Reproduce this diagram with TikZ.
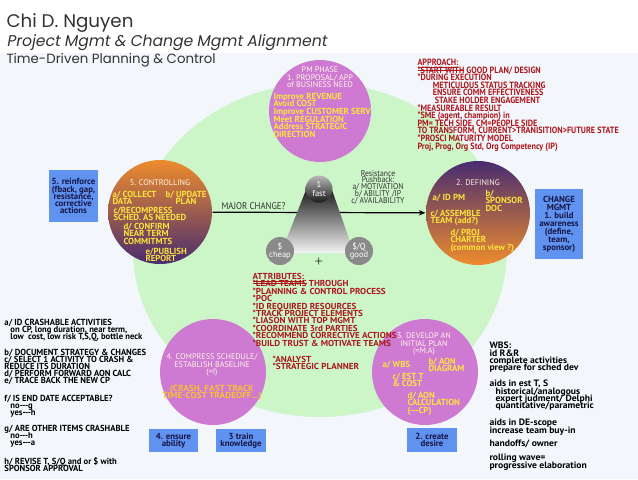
\documentclass[tikz,border=0pt]{standalone}
\usepackage{fontspec}
\usetikzlibrary{positioning,arrows.meta}

\newfontfamily\cndfont[FakeStretch=0.9]{PT Sans}
\newfontfamily\discfont[FakeStretch=1.0]{PT Sans}
\newfontfamily\cirfont[FakeStretch=1.05]{PT Sans}
\newfontfamily\boxfont[FakeStretch=1.0]{PT Sans}
\newfontfamily\notefont[FakeStretch=0.98]{PT Sans}
\newfontfamily\widefont[FakeStretch=1.05]{PT Sans}
\newfontfamily\headfont{Poppins}
\newfontfamily\headslant[FakeSlant=0.18]{Poppins}
\lineskiplimit=-20pt

\newcommand{\strk}[1]{\setbox0\hbox{#1}\rlap{\rule[0.3em]{\wd0}{0.45pt}}\box0\relax}

\definecolor{panelbg}{RGB}{243,246,250}
\definecolor{ringgreen}{RGB}{204,245,200}
\definecolor{orchid}{RGB}{206,122,210}
\definecolor{phorange}{RGB}{238,140,45}
\definecolor{phpurple}{RGB}{72,44,112}
\definecolor{txyellow}{RGB}{250,228,60}
\definecolor{txgold}{RGB}{250,190,50}
\definecolor{txlight}{RGB}{255,246,228}
\definecolor{txred}{RGB}{172,22,28}
\definecolor{boxblue}{RGB}{96,146,240}
\definecolor{boxnavy}{RGB}{22,22,70}
\definecolor{hdgray}{RGB}{51,51,51}
\definecolor{ballgray}{RGB}{138,138,138}

\tikzset{every picture/.style={line width=0.75pt}}
\tikzset{
  disc/.style={circle,draw=none,inner sep=0pt},
  intext/.style={inner sep=0pt,anchor=north west,align=left,text=txyellow,
    font=\discfont\bfseries\fontsize{6.6}{5.7}\selectfont},
  intitle/.style={inner sep=0pt,anchor=north,align=center,text=txlight,
    font=\discfont\fontsize{6.1}{5.6}\selectfont},
  redlist/.style={intext,text=txred,font=\cirfont\bfseries\fontsize{6.5}{5.6}\selectfont},
  notelist/.style={intext,text=black,font=\notefont\bfseries\fontsize{6.6}{5.3}\selectfont},
  widenote/.style={intext,text=black,font=\widefont\bfseries\fontsize{6.9}{5.6}\selectfont},
  cmbox/.style={draw=none,fill=boxblue,inner sep=0pt,align=center,text=boxnavy,
    font=\boxfont\bfseries\fontsize{6.6}{5.3}\selectfont},
  balltext/.style={align=center,text=white,font=\discfont\fontsize{6.4}{6.4}\selectfont}
}

\begin{document}
\begin{tikzpicture}[x=0.75pt,y=0.75pt,yscale=-1,xscale=1]
\useasboundingbox (0,0) rectangle (638,479);

%Shape: Rectangle [id:panel]
\fill[panelbg] (0,53) rectangle (638,479);
%Shape: Ellipse [id:ring]
\fill[ringgreen] (320,250) ellipse [x radius=187, y radius=167];

% Text Node
\draw (6,27) node (author) [anchor=base west,inner sep=0pt,text=hdgray,font=\headfont\fontsize{13.7}{16}\selectfont] {Chi D. Nguyen};
% Text Node
\draw (6,46) node (topic) [anchor=base west,inner sep=0pt,text=hdgray,font=\headslant\fontsize{11.7}{14}\selectfont] {Project Mgmt \& Change Mgmt Alignment};
% Text Node
\draw (6,63) node (subtopic) [anchor=base west,inner sep=0pt,text=hdgray,font=\headfont\fontsize{10}{12}\selectfont] {Time-Driven Planning \& Control};

%Shape: Circle [id:phases]
\draw (320,111) node (pm) [disc,minimum size=76.5pt,fill=orchid] {};
\draw (160,212) node (ctrl) [disc,minimum size=78pt,top color=phorange,bottom color=phpurple] {};
\draw (478,213) node (def) [disc,minimum size=78pt,top color=phpurple,bottom color=phorange] {};
\draw (213,372) node (cmp) [disc,minimum size=79.5pt,fill=orchid] {};
\draw (425,372) node (dev) [disc,minimum size=79.5pt,fill=orchid] {};

%Straight Lines [id:majorchange]
\draw [-{Stealth[length=5pt,width=4pt]},line width=0.9] (ctrl) -- (def);

%Shape: Trapezoid [id:tcq]
\shade[top color=black!88,bottom color=white!96!black] (306,190) -- (332,190) -- (354,253) -- (281,253) -- cycle;
\draw (319,189) node (fast) [disc,minimum size=20.25pt,top color=gray!55,bottom color=black!90,balltext] {1\\fast};
\draw (280,251) node (cheap) [disc,minimum size=21pt,fill=ballgray,balltext] {\$\\cheap};
\draw (359,251) node (good) [disc,minimum size=21pt,fill=ballgray,balltext] {\$/Q\\good};
\draw (319,261) node (plus) [inner sep=0pt,font=\bfseries\fontsize{6}{6}\selectfont] {+};

% Text Node
\draw (221,206) node (major) [anchor=west,inner sep=0pt,text=hdgray,font=\cndfont\fontsize{7.3}{6}\selectfont] {MAJOR CHANGE?};
% Text Node
\draw (378,169.5) node (resist) [anchor=north,inner sep=0pt,align=center,text=hdgray,font=\cndfont\fontsize{6.4}{5.1}\selectfont] {Resistance\\Pushback:\\a/ MOTIVATION\\b/ ABILITY /IP\\c/ AVAILABILITY};

% PM phase
\draw (320,66.5) node (pmT) [intitle] {PM PHASE\\1. PROPOSAL/ APP\\of BUSINESS NEED};
\draw (273,92.5) node (pmL) [intext] {Improve REVENUE\\Avoid COST\\Improve CUSTOMER SERV\\Meet REGULATION\\Address STRATEGIC\\DIRECTION};

% Controlling
\draw (160,179.5) node (ctrlT) [intitle] {5. CONTROLLING};
\draw (112,190.5) node (ctrlA) [intext] {a/ COLLECT\\DATA};
\draw (186,190.5) node (ctrlB) [intext,anchor=north,align=center] {b/ UPDATE\\PLAN};
\draw (113,206.5) node (ctrlC) [intext] {c/RECOMPRESS\\SCHED. AS NEEDED};
\draw (123,222.5) node (ctrlD) [intext] {d/ CONFIRM\\NEAR TERM\\COMMITMTS};
\draw (145,247.5) node (ctrlE) [intext] {e/PUBLISH\\REPORT};

% Defining
\draw (478,179.5) node (defT) [intitle] {2. DEFINING};
\draw (432,193.5) node (defA) [intext] {a/ ID PM};
\draw (485,189.5) node (defB) [intext] {b/\\SPONSOR\\DOC};
\draw (430,209.5) node (defC) [intext] {c/ ASSEMBLE\\TEAM (add?)};
\draw (450,228.5) node (defD) [intext] {d/ PROJ\\CHARTER\\(common view ?)};

% Compress
\draw (212,353.5) node (cmpT) [intitle] {4. COMPRESS SCHEDULE/\\ESTABLISH BASELINE\\(=I)};
\draw (212,384.5) node (cmpN) [intext,anchor=north,align=center,text=txgold,font=\cirfont\bfseries\fontsize{6.6}{5.7}\selectfont] {(CRASH, FAST TRACK\\TIME-COST TRADEOFF...)};

% Develop
\draw (424,332.5) node (devT) [intitle] {3. DEVELOP AN\\INITIAL PLAN\\(=M.A)};
\draw (382,360.5) node (devA) [intext] {a/ WBS};
\draw (428,357.5) node (devB) [intext] {b/ AON\\DIAGRAM};
\draw (392,372.5) node (devC) [intext] {c/ EST T\\\& COST};
\draw (407,391.5) node (devD) [intext] {d/ AON\\CALCULATION\\(-{}-{}-CP)};

% Red lists
\draw (417,58.5) node (approach) [redlist,font=\cndfont\bfseries\fontsize{6.8}{5.7}\selectfont] {\underline{APPROACH:}\\
\strk{*START WITH} GOOD PLAN/ DESIGN\\
*DURING EXECUTION\\
\hspace*{11.5pt}METICULOUS STATUS TRACKING\\
\hspace*{11.5pt}ENSURE COMM EFFECTIVENESS\\
\hspace*{13pt}STAKE HOLDER ENGAGEMENT\\
*MEASUREABLE RESULT\\
*SME (agent, champion) in\\
PM= TECH SIDE, CM=PEOPLE SIDE\\
TO TRANSFORM, CURRENT>TRANISITION>FUTURE STATE\\
*PROSCI MATURITY MODEL\\
Proj, Prog, Org Std, Org Competency (IP)};
\draw (252,272.5) node (attrib) [redlist] {\underline{ATTRIBUTES:}\\
\strk{*LEAD TEAMS} THROUGH\\
*PLANNING \& CONTROL PROCESS\\
*POC\\
*ID REQUIRED RESOURCES\\
*TRACK PROJECT ELEMENTS\\
*LIASON WITH TOP MGMT\\
*COORDINATE 3rd PARTIES\\
*RECOMMEND CORRECTIVE ACTIONS\\
*BUILD TRUST \& MOTIVATE TEAMS};
\draw (272,355.5) node (roles) [redlist] {*ANALYST\\*STRATEGIC PLANNER};

% Crash steps
\draw (4,318.5) node (crA) [notelist] {a/ ID CRASHABLE ACTIVITIES\\\hspace*{4.5pt}on CP, long duration, near term,\\\hspace*{4.5pt}low\ \ cost, low risk T,S,Q, bottle neck};
\draw (4,348.5) node (crB) [notelist] {b/ DOCUMENT STRATEGY \& CHANGES\\c/ SELECT 1 ACTIVITY TO CRASH \&\\REDUCE ITS DURATION\\d/ PERFORM FORWARD AON CALC\\e/ TRACE BACK THE NEW CP};
\draw (4,394.5) node (crF) [notelist] {f/ IS END DATE ACCEPTABLE?\\\hspace*{4.5pt}no-{}-{}-g\\\hspace*{4.5pt}yes-{}-{}-h};
\draw (4,424.5) node (crG) [notelist] {g/ ARE OTHER ITEMS CRASHABLE\\\hspace*{4.5pt}no-{}-{}-h\\\hspace*{4.5pt}yes-{}-{}-a};
\draw (4,456.5) node (crH) [notelist] {h/ REVISE T, S/Q and or \$ with\\SPONSOR APPROVAL};

% WBS notes
\draw (489,341.5) node (wbsA) [widenote] {WBS:\\id R\&R\\complete activities\\prepare for sched dev};
\draw (489,379.5) node (wbsB) [widenote] {aids in est T, S\\\hspace*{4.5pt}historical/analogous\\\hspace*{4.5pt}expert judment/ Delphi\\\hspace*{4.5pt}quantitative/parametric};
\draw (489,418.5) node (wbsC) [widenote] {aids in DE-scope\\increase team buy-in};
\draw (489,439.5) node (wbsD) [widenote] {handoffs/ owner};
\draw (489,453.5) node (wbsE) [widenote] {rolling wave=\\progressive elaboration};

% Change mgmt boxes
\draw (73.5,196) node (reinforce) [cmbox,minimum width=36.75pt,minimum height=39pt] {5. reinforce\\(fback, gap,\\resistance,\\corrective\\actions};
\draw (559,224) node (aware) [cmbox,minimum width=36pt,minimum height=52.5pt,font=\boxfont\bfseries\fontsize{6.6}{6}\selectfont] {CHANGE\\MGMT\\1. build\\awareness\\(define,\\team,\\sponsor)};
\draw (173.5,440.5) node (ability) [cmbox,minimum width=36.75pt,minimum height=17.25pt] {4. ensure\\ability};
\draw (241,440.5) node (train) [cmbox,minimum width=37.5pt,minimum height=17.25pt] {3 train\\knowledge};
\draw (432,440) node (desire) [cmbox,minimum width=37.5pt,minimum height=18pt] {2. create\\desire};

\end{tikzpicture}
\end{document}
